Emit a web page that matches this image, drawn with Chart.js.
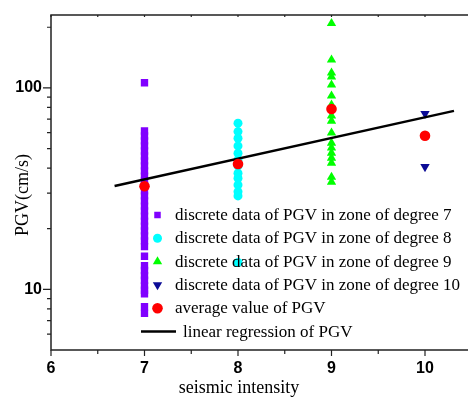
<!DOCTYPE html>
<html><head><meta charset="utf-8">
<script src="https://cdn.jsdelivr.net/npm/chart.js@4/dist/chart.umd.min.js"></script>
<style>html,body{margin:0;padding:0;background:#fff;overflow:hidden}canvas{display:block}</style>
</head><body>
<canvas id="c" width="480" height="397" style="width:480px;height:397px"></canvas>
<script>
// ---- data ----
const intensityDegrees = [7, 8, 9, 10];
const pgvDegree7 = [106, 61.1, 57.7, 54.6, 51.5, 48.6, 45.9, 43.4, 41.0, 38.7, 36.5, 34.5, 32.6, 30.8, 29.1, 27.5, 25.9, 24.5, 23.1, 21.8, 20.6, 19.5, 18.4, 17.4, 16.3, 14.6, 13.1, 12.4, 11.7, 11.1, 10.4, 9.9, 9.5, 8.2, 7.6];
const pgvDegree8 = [66.8, 60.7, 56.2, 51.5, 47.4, 43.9, 41.0, 37.7, 35.6, 33.0, 30.5, 29.1, 13.6];
const pgvDegree9 = [209, 137.8, 118.7, 113.4, 103.5, 91.3, 82.3, 72.6, 68.5, 59.8, 53.3, 50.4, 47.5, 44.9, 42.4, 36.1, 34.1];
const pgvDegree10 = [74.5, 40.6];
const pgvAverage = [32.5, 41.9, 78.6, 57.9];
const regressionIntensity = [6.68, 10.31];
const regressionPgv = [32.6, 76.9];
const xTickLabels = [6, 7, 8, 9, 10];
const yTickLabels = [10, 100];
const seriesLabels = [
  'discrete data of PGV in zone of degree 7',
  'discrete data of PGV in zone of degree 8',
  'discrete data of PGV in zone of degree 9',
  'discrete data of PGV in zone of degree 10',
  'average value of PGV',
  'linear regression of PGV'
];
const xTitle = 'seismic intensity';
const yTitle = 'PGV(cm/s)';

const pts = (deg, arr) => arr.map(v => ({x: deg, y: v}));

const datasets = [
  {label: seriesLabels[0], data: pts(intensityDegrees[0], pgvDegree7), pointStyle: 'rect', pointRadius: 5.2,
   backgroundColor: '#8000ff', borderColor: '#8000ff', borderWidth: 0, showLine: false, order: 3},
  {label: seriesLabels[1], data: pts(intensityDegrees[1], pgvDegree8), pointStyle: 'circle', pointRadius: 4.5,
   backgroundColor: '#00ffff', borderColor: '#00ffff', borderWidth: 0, showLine: false, order: 3},
  {label: seriesLabels[2], data: pts(intensityDegrees[2], pgvDegree9), pointStyle: 'triangle', pointRadius: 5.4,
   backgroundColor: '#00ff00', borderColor: '#00ff00', borderWidth: 0, showLine: false, order: 3},
  {label: seriesLabels[3], data: pts(intensityDegrees[3], pgvDegree10), pointStyle: 'triangle', rotation: 180, pointRadius: 5.4,
   backgroundColor: '#0b0b96', borderColor: '#0b0b96', borderWidth: 0, showLine: false, order: 3},
  {label: seriesLabels[4], data: intensityDegrees.map((d, i) => ({x: d, y: pgvAverage[i]})), pointStyle: 'circle', pointRadius: 5.3,
   backgroundColor: '#ff0000', borderColor: '#ff0000', borderWidth: 0, showLine: false, order: 1},
  {label: seriesLabels[5], data: regressionIntensity.map((d, i) => ({x: d, y: regressionPgv[i]})), showLine: true,
   pointRadius: 0, borderColor: '#000', borderWidth: 2.5, backgroundColor: '#000', order: 2}
];

const framePlugin = {
  id: 'frame',
  afterDatasetsDraw(chart) {
    const {ctx, chartArea: a, scales: {x, y}} = chart;
    ctx.save();
    ctx.strokeStyle = '#222';
    ctx.lineWidth = 1.5;
    ctx.beginPath();
    ctx.moveTo(a.left, a.top); ctx.lineTo(a.right, a.top);
    ctx.moveTo(a.left, a.top - 0.75); ctx.lineTo(a.left, a.bottom + 0.75);
    ctx.moveTo(a.left, a.bottom); ctx.lineTo(a.right, a.bottom);
    ctx.moveTo(a.right, a.top); ctx.lineTo(a.right, a.bottom);
    ctx.stroke();
    ctx.lineWidth = 1.2;
    ctx.beginPath();
    for (let v = x.min; v <= x.max + 1e-9; v += 0.5) {
      const px = x.getPixelForValue(v);
      const major = Math.abs(v - Math.round(v)) < 1e-9;
      ctx.moveTo(px, a.bottom); ctx.lineTo(px, a.bottom + (major ? 6 : 4));
      ctx.moveTo(px, a.top); ctx.lineTo(px, a.top + 2);
    }
    for (let k = 0; k <= 2; k++) {
      for (let m = 1; m <= 9; m++) {
        const v = m * Math.pow(10, k);
        if (v <= y.min || v > y.max) continue;
        const py = y.getPixelForValue(v);
        const len = m === 1 ? 8 : 4;
        ctx.moveTo(a.left - len, py); ctx.lineTo(a.left, py);
      }
    }
    ctx.stroke();
    // axis titles
    ctx.fillStyle = '#000';
    ctx.font = '18px "Liberation Serif", "Times New Roman", serif';
    ctx.textAlign = 'center';
    ctx.textBaseline = 'alphabetic';
    ctx.fillText(xTitle, x.getPixelForValue(8) + 1, 392.5);
    ctx.translate(28.3, 195);
    ctx.rotate(-Math.PI / 2);
    ctx.fillText(yTitle, 0, 0);
    ctx.restore();
  },
  afterDraw(chart) {
    const {ctx} = chart;
    ctx.save();
    const top = 215, step = 23.3;
    ctx.font = '17px "Liberation Serif", "Times New Roman", serif';
    ctx.textAlign = 'left';
    ctx.textBaseline = 'alphabetic';
    chart.data.datasets.forEach((ds, i) => {
      const cy = top + i * step;
      if (ds.showLine) {
        ctx.strokeStyle = ds.borderColor; ctx.lineWidth = 2.5;
        ctx.beginPath(); ctx.moveTo(141, cy); ctx.lineTo(176, cy); ctx.stroke();
        ctx.fillStyle = '#000';
        ctx.fillText(ds.label, 183, cy + 5);
      } else {
        ctx.fillStyle = ds.backgroundColor;
        const r = ds.pointStyle === 'rect' ? 4.6 : ds.pointRadius;
        Chart.helpers.drawPoint(ctx, {pointStyle: ds.pointStyle, rotation: ds.rotation || 0, radius: r, borderWidth: 0}, 157.5, cy);
        ctx.fillStyle = '#000';
        ctx.fillText(ds.label, 175, cy + 5);
      }
    });
    ctx.restore();
  }
};

new Chart(document.getElementById('c'), {
  type: 'scatter',
  data: {datasets},
  options: {
    responsive: false,
    animation: false,
    events: [],
    layout: {padding: {top: 15, right: 8.25, left: 0, bottom: 0}},
    plugins: {legend: {display: false}, tooltip: {enabled: false}},
    scales: {
      x: {
        type: 'linear', min: 6, max: 10.5,
        grid: {display: false, drawTicks: false},
        border: {display: false},
        ticks: {
          stepSize: 0.5, autoSkip: false, padding: 9, color: '#000',
          font: {family: '"Liberation Sans", Arial, sans-serif', size: 16, weight: 'bold'},
          callback: v => xTickLabels.includes(v) ? String(v) : ''
        },
        afterFit: s => { s.height = 47; s.paddingLeft = 0; s.paddingRight = 0; }
      },
      y: {
        type: 'logarithmic', min: 5, max: 230,
        grid: {display: false, drawTicks: false},
        border: {display: false},
        ticks: {
          autoSkip: false, padding: 9, color: '#000',
          font: {family: '"Liberation Sans", Arial, sans-serif', size: 16, weight: 'bold'},
          callback: v => yTickLabels.some(t => Math.abs(t - v) < 1e-6) ? String(v) : ''
        },
        afterFit: s => { s.width = 51; s.paddingTop = 0; s.paddingBottom = 0; }
      }
    }
  },
  plugins: [framePlugin]
});
</script>
</body></html>
